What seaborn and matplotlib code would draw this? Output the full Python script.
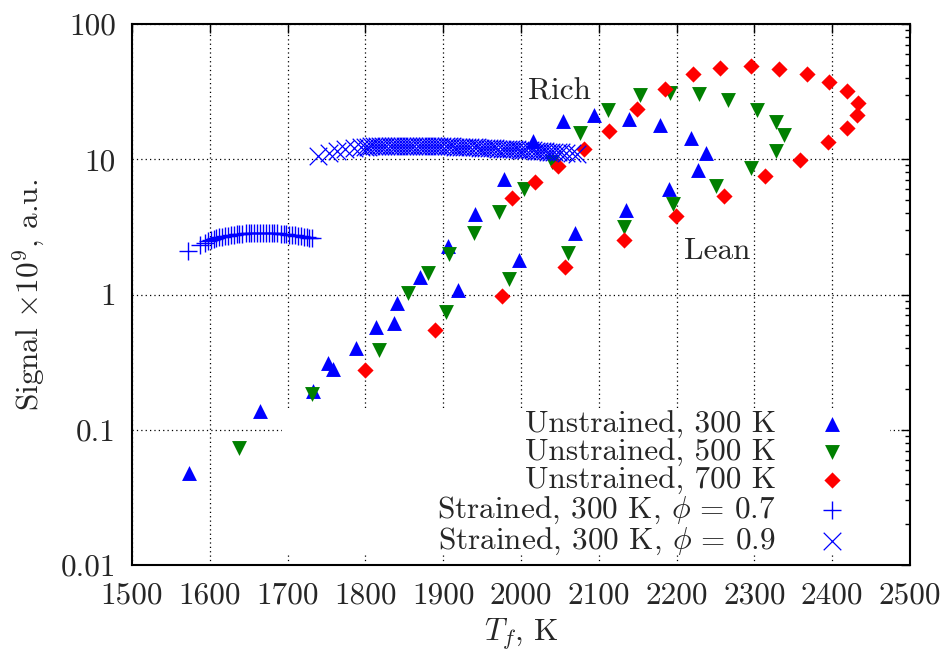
import numpy as np
import pandas as pd
import matplotlib
matplotlib.use('Agg')
import matplotlib.pyplot as plt
from matplotlib.patches import Rectangle
import seaborn as sns

sns.set_theme(style='white')
plt.rcParams['font.family'] = ['cmr10']
plt.rcParams['mathtext.fontset'] = 'cm'
plt.rcParams['axes.formatter.use_mathtext'] = True

# unstrained flames, flame temperature (K) vs signal
t_300 = [1573, 1664, 1733, 1752, 1758, 1788, 1813, 1837, 1841, 1870, 1906, 1919, 1941,
         1978, 1998, 2016, 2054, 2069, 2094, 2135, 2139, 2179, 2190, 2218, 2227, 2238]
s_300 = [0.048, 0.137, 0.193, 0.309, 0.28, 0.40, 0.576, 0.617, 0.858, 1.34, 2.29, 1.08, 3.92,
         7.2, 1.8, 13.6, 19.1, 2.87, 21.1, 4.25, 20.0, 17.8, 6.07, 14.4, 8.3, 11.1]

t_500 = [1637, 1732, 1818, 1855, 1881, 1904, 1908, 1939, 1972, 1984, 2004, 2040, 2061, 2076,
         2112, 2132, 2153, 2191, 2195, 2229, 2251, 2266, 2296, 2303, 2328, 2328, 2338]
s_500 = [0.0728, 0.185, 0.392, 1.03, 1.44, 0.744, 1.98, 2.87, 4.04, 1.30, 6.07, 9.55, 2.04, 15.6,
         23.3, 3.16, 30.1, 31.1, 4.63, 30.6, 6.32, 27.3, 8.63, 23.0, 18.7, 11.5, 15.0]

t_700 = [1800, 1890, 1976, 1988, 2018, 2048, 2056, 2081, 2113, 2132, 2149, 2185, 2199, 2221,
         2256, 2261, 2295, 2314, 2331, 2359, 2367, 2394, 2396, 2419, 2419, 2432, 2433]
s_700 = [0.276, 0.545, 0.98, 5.18, 6.8, 8.88, 1.60, 12.0, 16.1, 2.52, 23.7, 32.9, 3.81, 42.5,
         47.6, 5.36, 48.9, 7.49, 46.8, 9.84, 43.0, 13.3, 37.3, 31.8, 16.9, 21.4, 26.2]

# strained flames
t_phi07 = [1572, 1588, 1594, 1598, 1601, 1605, 1608, 1612, 1616, 1620, 1623, 1627, 1631, 1635,
           1638, 1642, 1646, 1650, 1653, 1657, 1661, 1665, 1668, 1672, 1676, 1680, 1683, 1687,
           1691, 1695, 1698, 1702, 1706, 1710, 1713, 1717, 1721, 1725, 1728, 1731]
s_phi07 = [2.10, 2.33, 2.42, 2.47, 2.52, 2.56, 2.60, 2.64, 2.67, 2.70, 2.72, 2.75, 2.77, 2.79,
           2.80, 2.82, 2.83, 2.84, 2.85, 2.85, 2.86, 2.86, 2.86, 2.86, 2.85, 2.85, 2.84, 2.83,
           2.82, 2.81, 2.79, 2.77, 2.76, 2.74, 2.72, 2.70, 2.67, 2.65, 2.62, 2.60]

t_phi09 = [1739, 1753, 1764, 1774, 1785, 1794, 1799, 1803, 1807, 1811, 1815, 1819, 1823, 1827,
           1831, 1835, 1839, 1843, 1847, 1851, 1855, 1859, 1863, 1867, 1871, 1875, 1879, 1883,
           1887, 1891, 1895, 1899, 1903, 1907, 1911, 1915, 1919, 1923, 1927, 1931, 1935, 1939,
           1943, 1947, 1951, 1955, 1959, 1963, 1967, 1971, 1975, 1979, 1983, 1987, 1991, 1995,
           1999, 2003, 2007, 2011, 2015, 2019, 2023, 2027, 2031, 2035, 2039, 2043, 2047, 2051,
           2058, 2065, 2072]
s_phi09 = [10.6, 11.2, 11.6, 11.9, 12.1, 12.3, 12.4, 12.4, 12.45, 12.5, 12.5, 12.5, 12.55, 12.55,
           12.6, 12.6, 12.6, 12.6, 12.6, 12.6, 12.6, 12.6, 12.6, 12.6, 12.6, 12.55, 12.55, 12.55,
           12.55, 12.5, 12.5, 12.5, 12.5, 12.45, 12.45, 12.4, 12.4, 12.35, 12.35, 12.3, 12.3, 12.25,
           12.25, 12.2, 12.2, 12.15, 12.1, 12.1, 12.05, 12.0, 12.0, 11.95, 11.95, 11.9, 11.85, 11.85,
           11.8, 11.75, 11.7, 11.7, 11.65, 11.6, 11.55, 11.5, 11.45, 11.4, 11.35, 11.3, 11.3, 11.25,
           11.2, 11.1, 10.9]

labels = ['Unstrained, 300 K', 'Unstrained, 500 K', 'Unstrained, 700 K',
          r'Strained, 300 K, $\phi\, =\, 0.7$', r'Strained, 300 K, $\phi\, =\, 0.9$']
yticks = [0.01, 0.1, 1, 10, 100]
ytick_labels = ['0.01', '0.1', '1', '10', '100']
xticks = [1500, 1600, 1700, 1800, 1900, 2000, 2100, 2200, 2300, 2400, 2500]

fs = 22.5

fig = plt.figure(figsize=(9.44, 6.53), dpi=100)
ax = fig.add_axes([132 / 944, 1 - 565 / 653, 778 / 944, 541 / 653])

sns.scatterplot(x=t_300, y=s_300, marker='^', color='#0000ff', s=115, linewidth=0,
                label=labels[0], ax=ax, zorder=3)
sns.scatterplot(x=t_500, y=s_500, marker='v', color='#008000', s=115, linewidth=0,
                label=labels[1], ax=ax, zorder=3)
sns.scatterplot(x=t_700, y=s_700, marker='D', color='#ff0000', s=68, linewidth=0,
                label=labels[2], ax=ax, zorder=3)
sns.scatterplot(x=t_phi07, y=s_phi07, marker='+', color='#0000ff', s=150, linewidth=1.0,
                label=labels[3], ax=ax, zorder=3)
sns.scatterplot(x=t_phi09, y=s_phi09, marker='x', color='#0000ff', s=160, linewidth=0.9,
                label=labels[4], ax=ax, zorder=3)

ax.set_yscale('log')
ax.set_xlim(1500, 2500)
ax.set_ylim(0.01, 100)
ax.set_xticks(xticks)
ax.set_xticklabels([str(v) for v in xticks])
ax.set_yticks(yticks)
ax.set_yticklabels(ytick_labels)
ax.yaxis.set_minor_locator(matplotlib.ticker.LogLocator(base=10, subs=np.arange(2, 10)))
ax.yaxis.set_minor_formatter(matplotlib.ticker.NullFormatter())
ax.tick_params(which='both', direction='in', top=True, right=True, labelsize=fs, color='black')
ax.tick_params(which='major', length=6.5, width=1)
ax.tick_params(which='minor', length=3.5, width=1)
ax.tick_params(axis='x', which='major', pad=12)
ax.tick_params(axis='y', which='major', pad=11.5)
ax.set_axisbelow(True)
ax.grid(True, which='major', color='black', linestyle=(0, (1, 2.5)), linewidth=0.9)
for sp in ax.spines.values():
    sp.set_color('black')
    sp.set_linewidth(1.5)

# white key box hiding the grid
ax.add_patch(Rectangle((0.193, 0.0185), 0.781, 0.268, transform=ax.transAxes,
                       facecolor='white', edgecolor='none', zorder=1))

ax.text(2049, 31.8, 'Rich', fontsize=fs, ha='center', va='center')
ax.text(2252, 2.09, 'Lean', fontsize=fs, ha='center', va='center')

ax.set_xlabel(r'$T_f$, K', fontsize=fs, labelpad=5)
ax.set_ylabel(r'Signal $\times 10^9$, a.u.', fontsize=fs, labelpad=10)

ax.legend(loc='lower right', bbox_to_anchor=(0.936, 0.0145), markerfirst=False, frameon=False,
          fontsize=fs, handletextpad=0.9, handlelength=1.8, labelspacing=0.0, borderpad=0,
          borderaxespad=0)

fig.savefig('out.png', dpi=100)
